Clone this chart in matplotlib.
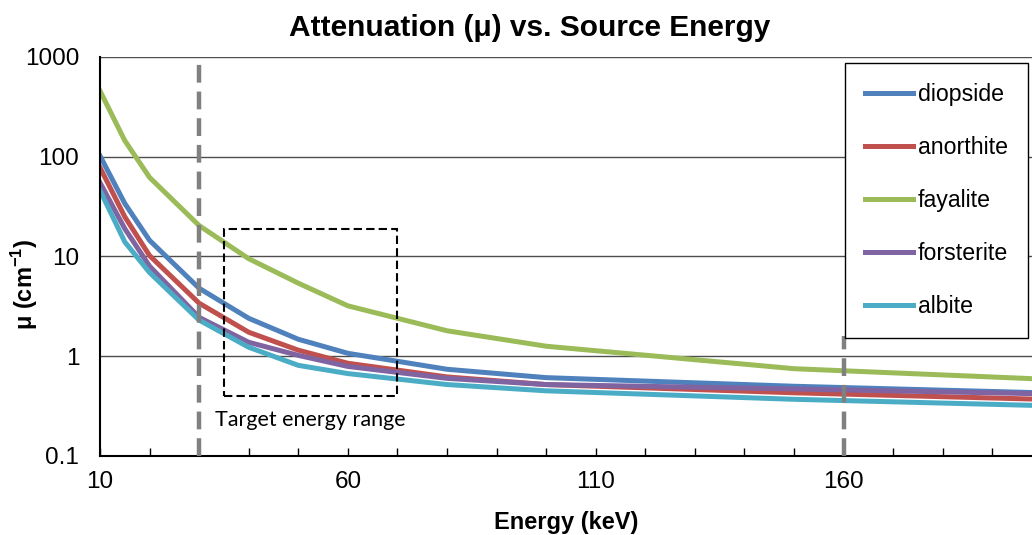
import matplotlib
matplotlib.use('Agg')
import matplotlib.pyplot as plt
from matplotlib.patches import Rectangle
from matplotlib.ticker import FixedLocator, MultipleLocator, FuncFormatter

plt.rcParams['font.family'] = ['Liberation Sans', 'DejaVu Sans']
plt.rcParams['mathtext.fontset'] = 'custom'
plt.rcParams['mathtext.rm'] = 'Liberation Sans'
plt.rcParams['mathtext.bf'] = 'Liberation Sans:bold'

# energies (keV) and attenuation (1/cm)
energy = [10, 15, 20, 30, 40, 50, 60, 80, 100, 150, 200]
diopside = [102, 34, 14.5, 4.8, 2.4, 1.48, 1.07, 0.74, 0.61, 0.5, 0.43]
anorthite = [78, 25, 10.2, 3.4, 1.74, 1.15, 0.85, 0.62, 0.52, 0.43, 0.37]
fayalite = [457, 145, 62, 20.4, 9.5, 5.4, 3.2, 1.8, 1.26, 0.75, 0.59]
forsterite = [55, 19, 8.0, 2.45, 1.38, 1.02, 0.79, 0.6, 0.52, 0.47, 0.42]
albite = [46, 14, 6.9, 2.3, 1.23, 0.81, 0.67, 0.52, 0.45, 0.37, 0.32]

series = [('diopside', diopside, '#4F81BD'),
          ('anorthite', anorthite, '#C0504D'),
          ('fayalite', fayalite, '#9BBB59'),
          ('forsterite', forsterite, '#8064A2'),
          ('albite', albite, '#4BACC6')]

fig = plt.figure(figsize=(10.32, 5.35), dpi=100)
ax = fig.add_axes([0.0969, 0.1477, 0.9031, 0.7458])

for name, vals, col in series:
    ax.plot(energy, vals, color=col, lw=3.6, label=name, solid_joinstyle='round')

ax.set_yscale('log')
ax.set_ylim(0.1, 1000)
ax.set_xlim(10, 198)

ax.yaxis.set_major_locator(FixedLocator([0.1, 1, 10, 100, 1000]))
ax.yaxis.set_minor_locator(FixedLocator([]))
ax.yaxis.set_major_formatter(FuncFormatter(lambda v, p: f'{v:g}'))
ax.tick_params(axis='y', length=0, labelsize=17.5, pad=15)
ax.grid(axis='y', which='major', color='#4d4d4d', lw=1)

ax.xaxis.set_major_locator(FixedLocator([10, 60, 110, 160]))
ax.xaxis.set_minor_locator(MultipleLocator(10))
ax.tick_params(axis='x', which='both', direction='in', length=6, width=1,
               labelsize=17.5, pad=11)

for s in ['top', 'right']:
    ax.spines[s].set_visible(False)
ax.spines['left'].set_linewidth(1.5)
ax.spines['bottom'].set_linewidth(1.5)

# energy markers and target window
ax.axvline(30, color='#808080', lw=3.2, dashes=(4, 2), zorder=3)
ax.axvline(160, ymax=0.30, color='#808080', lw=3.2, dashes=(4, 2), zorder=3)
ax.add_patch(Rectangle((35, 0.4), 35, 18.5, fill=False, ec='black', lw=1.5,
                       ls=(0, (4, 2)), zorder=4))
ax.text(52.5, 0.23, 'Target energy range', family=['Lato', 'DejaVu Sans'],
        fontsize=15.5, ha='center', va='center')

fig.text(0.5136, 0.947, 'Attenuation (μ) vs. Source Energy', fontsize=21.5,
         fontweight='bold', ha='center', va='center')
ax.set_xlabel('Energy (keV)', fontsize=17, fontweight='bold', labelpad=13)
ax.set_ylabel(r'μ (cm$^{\mathbf{-1}}$)', fontsize=17, fontweight='bold', va='center')
ax.yaxis.set_label_coords(-0.081, 0.431)

leg = ax.legend(loc='upper right', bbox_to_anchor=(0.9957, 0.985), fontsize=16.7,
                frameon=True, fancybox=False, edgecolor='black', framealpha=1,
                labelspacing=1.3, handlelength=2.1, handletextpad=0.2,
                borderpad=0.85, borderaxespad=0)
leg.get_frame().set_linewidth(1)

fig.savefig('out.png', dpi=100)
